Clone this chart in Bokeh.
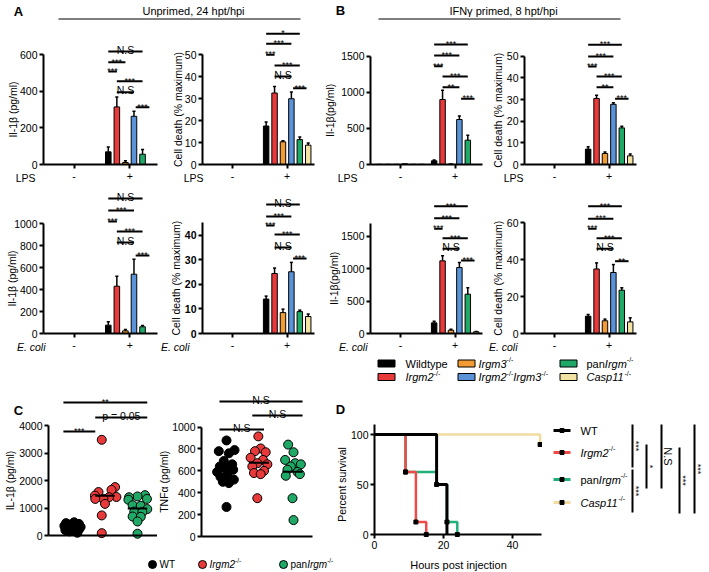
import math
from bokeh.plotting import figure
from bokeh.layouts import row, column
from bokeh.models import Range1d, FixedTicker, ColumnDataSource
from bokeh.core.properties import value
from bokeh.embed import file_html
from bokeh.resources import INLINE

FONT = "Liberation Sans"

# ---------------------------------------------------------------- data
GENOTYPES = ["Wildtype", "Irgm2-/-", "Irgm3-/-", "Irgm2-/-Irgm3-/-", "panIrgm-/-", "Casp11-/-"]
BAR_COLORS = ["#000000", "#e8393b", "#f39c33", "#5b93d9", "#20a866", "#f2e2a4"]
STIM_TICKS = ["-", "+"]

ZERO6 = [0, 0, 0, 0, 0, 0]
# Panel A: unprimed, 24 hpt/hpi
A_LPS_IL1B_NEG = ZERO6
A_LPS_IL1B_POS = [69, 314, 11, 263, 56, 0]
A_LPS_IL1B_ERR = [27, 54, 9, 27, 26, 0]
A_LPS_DEATH_NEG = ZERO6
A_LPS_DEATH_POS = [17.5, 32.5, 10.3, 29.9, 11.3, 8.8]
A_LPS_DEATH_ERR = [1.8, 3.0, 0.5, 3.0, 1.2, 1.0]
A_ECOLI_IL1B_NEG = ZERO6
A_ECOLI_IL1B_POS = [76, 430, 24, 539, 61, 0]
A_ECOLI_IL1B_ERR = [30, 91, 12, 137, 12, 0]
A_ECOLI_DEATH_NEG = ZERO6
A_ECOLI_DEATH_POS = [14, 24.4, 8.5, 25.1, 8.9, 6.9]
A_ECOLI_DEATH_ERR = [1.2, 2.2, 1.4, 3.8, 0.6, 1.0]
# Panel B: IFNg primed, 8 hpt/hpi
B_LPS_IL1B_NEG = [3, 3, 3, 10, 3, 3]
B_LPS_IL1B_POS = [51, 900, 5, 623, 337, 0]
B_LPS_IL1B_ERR = [12, 129, 3, 50, 69, 0]
B_LPS_DEATH_NEG = ZERO6
B_LPS_DEATH_POS = [7.1, 30.5, 5.1, 27.8, 16.9, 4.0]
B_LPS_DEATH_ERR = [1.1, 1.5, 0.7, 0.7, 0.8, 0.8]
B_ECOLI_IL1B_NEG = ZERO6
B_ECOLI_IL1B_POS = [164, 1120, 51, 1017, 606, 26]
B_ECOLI_IL1B_ERR = [26, 77, 16, 77, 98, 6]
B_ECOLI_DEATH_NEG = ZERO6
B_ECOLI_DEATH_POS = [9.4, 35.0, 6.9, 33.1, 23.5, 6.3]
B_ECOLI_DEATH_ERR = [0.9, 3.3, 0.9, 4.3, 1.3, 2.2]

SIG_PAIRS = [(0, 4), (0, 3), (0, 1), (1, 4), (1, 3), (3.2, 4.8)]
SIG_PAIRS_A_LPS_IL1B = [(0, 4), (0, 2), (0, 1), (1, 4), (1, 3), (3.2, 4.8)]
SIG_A_LPS_IL1B = ["N.S", "***", "***", "***", "N.S", "***"]
SIG_A_LPS_DEATH = ["*", "***", "***", "***", "N.S", "***"]
SIG_A_ECOLI_IL1B = ["N.S", "***", "***", "***", "N.S", "***"]
SIG_A_ECOLI_DEATH = ["N.S", "***", "***", "***", "N.S", "***"]
SIG_B_LPS_IL1B = ["***", "***", "***", "***", "**", "***"]
SIG_B_LPS_DEATH = ["***", "***", "***", "***", "**", "***"]
SIG_B_ECOLI_IL1B = ["***", "***", "***", "***", "N.S", "***"]
SIG_B_ECOLI_DEATH = ["***", "***", "***", "***", "N.S", "**"]

# Panel C: in vivo cytokines
C_GROUPS = ["WT", "Irgm2-/-", "panIrgm-/-"]
C_COLORS = ["#000000", "#e8393b", "#20a866"]
C_IL1B_WT = [480, 450, 420, 400, 380, 350, 330, 310, 300, 280, 250, 220, 200, 180, 150, 100]
C_IL1B_WT_JIT = [0.05, -0.2, 0.2, -0.1, 0.12, -0.25, 0.0, 0.25, -0.15, 0.1, -0.05, 0.2, -0.22, 0.05, -0.1, 0.15]
C_IL1B_IRGM2 = [3480, 1760, 1660, 1580, 1450, 1400, 1390, 1330, 1330, 1150, 730, 85]
C_IL1B_IRGM2_JIT = [-0.1, 0.31, 0.2, -0.2, -0.31, 0.35, 0.12, -0.05, -0.3, 0.0, -0.1, -0.1]
C_IL1B_PAN = [1467, 1420, 1390, 1330, 1300, 1100, 1080, 960, 870, 850, 690, 680, 510, 65]
C_IL1B_PAN_JIT = [0.23, 0.0, -0.26, 0.29, -0.28, -0.15, 0.1, 0.3, -0.1, 0.15, -0.15, 0.1, 0.0, 0.0]
C_TNF_WT = [878, 790, 780, 760, 690, 660, 640, 620, 610, 590, 560, 545, 520, 500, 488, 270]
C_TNF_WT_JIT = [0.03, 0.27, -0.2, 0.1, -0.05, 0.2, -0.17, 0.0, 0.23, -0.25, 0.05, -0.15, 0.25, -0.08, 0.1, 0.03]
C_TNF_IRGM2 = [915, 805, 780, 770, 720, 700, 670, 660, 640, 600, 580, 570, 350]
C_TNF_IRGM2_JIT = [-0.02, 0.05, -0.12, 0.2, -0.25, 0.12, -0.05, 0.25, -0.2, 0.15, -0.15, 0.05, -0.05]
C_TNF_PAN = [840, 770, 700, 670, 660, 640, 610, 590, 570, 555, 350, 150]
C_TNF_PAN_JIT = [-0.13, 0.03, -0.22, 0.08, 0.25, -0.05, -0.15, 0.15, 0.22, -0.2, 0.0, 0.03]
C_IL1B_SIG = [((-0.28, 2.3), "**"), ((0.7, 2.3), "p = 0.05"), ((-0.28, 0.7), "***")]
C_TNF_SIG = [((-0.18, 2.3), "N.S"), ((0.8, 2.3), "N.S"), ((-0.18, 1.15), "N.S")]

# Panel D: survival
D_NAMES = ["WT", "Irgm2-/-", "panIrgm-/-", "Casp11-/-"]
D_COLORS = ["#000000", "#ee4a4a", "#22b07a", "#f0dca0"]
D_TIMES = [[0, 18, 21], [0, 9, 12, 15], [0, 9, 18, 21, 24], [0, 48]]
D_SURV = [[100, 50, 0], [100, 62.5, 12.5, 0], [100, 62.5, 50, 12.5, 0], [100, 90]]
D_SIG = [("***", 632, 424, 467), ("***", 632, 469, 512), ("*", 646, 444, 488),
         ("N.S", 661, 424, 488), ("***", 679, 447, 513), ("***", 694, 424, 513)]

# ---------------------------------------------------------------- helpers
W = {' ': 278, '-': 333, '/': 278, '.': 278, ',': 278, '=': 584, '*': 389, '(': 333, ')': 333,
     '%': 889, 'A': 667, 'B': 667, 'C': 722, 'D': 722, 'E': 667, 'F': 611, 'I': 278, 'L': 556,
     'N': 722, 'P': 667, 'S': 667, 'T': 611, 'W': 944, 'a': 556, 'b': 556, 'c': 500, 'd': 556,
     'e': 556, 'f': 278, 'g': 556, 'h': 556, 'i': 222, 'j': 222, 'k': 500, 'l': 222, 'm': 833,
     'n': 556, 'o': 556, 'p': 556, 'r': 333, 's': 500, 't': 278, 'u': 556, 'v': 500, 'w': 722,
     'x': 500, 'y': 500}


def tw(s, size):
    return sum(W.get(c, 556) for c in s) * size / 1000.0


def segments(name):
    out = []
    parts = name.split("-/-")
    for k, part in enumerate(parts):
        if part:
            if part.startswith("pan"):
                out.append(("pan", "normal", False))
                out.append((part[3:], "italic", False))
            elif part in ("WT", "Wildtype"):
                out.append((part, "normal", False))
            else:
                out.append((part, "italic", False))
        if k < len(parts) - 1:
            out.append(("-/-", "normal", True))
    return out


def make_fig(width, height, xr, yr, axes=True):
    kw = dict(width=width, height=height, x_range=xr, y_range=yr, output_backend="svg",
              toolbar_location=None, tools="", min_border_left=0, min_border_right=0,
              min_border_top=0, min_border_bottom=0, outline_line_color=None,
              background_fill_color="white", border_fill_color="white")
    if not axes:
        kw.update(x_axis_type=None, y_axis_type=None)
    p = figure(**kw)
    if axes:
        p.xgrid.visible = False
        p.ygrid.visible = False
    return p


def style_axis(ax, size="10.5px", bold=False, standoff=2):
    ax.axis_line_width = 2
    ax.axis_line_color = "black"
    ax.major_tick_line_width = 2
    ax.major_tick_line_color = "black"
    ax.major_tick_out = 4
    ax.major_tick_in = 0
    ax.minor_tick_line_color = None
    ax.major_label_text_font = FONT
    ax.major_label_text_font_size = size
    ax.major_label_text_color = "black"
    ax.major_label_standoff = standoff
    ax.major_label_text_font_style = "bold" if bold else "normal"


class Panel:
    """A figure whose frame fills the whole box (L,T)-(R,B) of the page; axes sit at fixed data
    locations inside it, so labels around the axes are ordinary glyphs."""

    def __init__(self, L, T, R, B, ax_px, ax_data, xs, ay_px, ys, axes=True):
        self.ax_px, self.ax_data, self.xs = ax_px, ax_data, xs
        self.ay_px, self.ys = ay_px, ys
        self.p = make_fig(R - L, B - T, Range1d(self.dx(L), self.dx(R)),
                          Range1d(self.dy(B), self.dy(T)), axes)

    def dx(self, px):
        return self.ax_data + (px - self.ax_px) / self.xs

    def dy(self, py):
        return (self.ay_px - py) / self.ys

    def text(self, px, py, s, size="10.5px", align="center", baseline="middle", angle=0.0,
             style="normal"):
        self.p.text(x=[self.dx(px)], y=[self.dy(py)], text=[s], text_font=value(FONT),
                    text_font_size=size, text_align=align, text_baseline=baseline, angle=angle,
                    text_font_style=style, text_color="black")

    def hline(self, x0, x1, py, width=2):
        self.p.segment(x0=[x0], y0=[self.dy(py)], x1=[x1], y1=[self.dy(py)], line_color="black",
                       line_width=width)


def canvas(x0, x1, y0, y1):
    # page-pixel coordinates: data x == page x, data y == page y (downwards)
    return Panel(x0, y0, x1, y1, 0, 0, 1.0, 0, -1.0, axes=False)


def rich(P, x, yc, name, size=11.0):
    """Mixed italic/normal text with superscript '-/-', vertically centred on yc."""
    for text, style, sup in segments(name):
        fs = size * 0.64 if sup else size
        yy = yc - size * 0.36 if sup else yc
        P.text(x, yy, text, size=f"{fs:.1f}px", align="left", baseline="middle", style=style)
        x += tw(text, fs)


def sig_text(P, xc, py, lab):
    if lab.startswith("*"):
        P.text(xc, py - 0.5, lab, size="9px", baseline="alphabetic")
    else:
        P.text(xc, py - 2.0, lab, size="10.5px", baseline="alphabetic")


SPACING = 0.154
BW = 0.1
X0, X1 = -0.55, 1.5


def bar_panel(L, R, T, B, axl, axr, axy, ys, ybound, neg, pos, err, yticks, ylabel, ylabel_px,
              stim, stim_right, pairs, labels, levels, bold=False):
    xs = (axr - axl) / (X1 - X0)
    P = Panel(L, T, R, B, axl, X0, xs, axy, ys)
    p = P.p
    x, top, col = [], [], []
    ex, ebar, etop = [], [], []
    for g, vals, es in ((0, neg, ZERO6), (1, pos, err)):
        for i in range(6):
            xi = g + (i - 2.5) * SPACING
            x.append(xi)
            top.append(vals[i])
            col.append(BAR_COLORS[i])
            if es[i] > 0:
                ex.append(xi)
                ebar.append(vals[i])
                etop.append(vals[i] + es[i])
    p.vbar(x="x", top="top", width=BW, fill_color="color", line_color="black", line_width=1,
           source=ColumnDataSource(dict(x=x, top=top, color=col)))
    esrc = ColumnDataSource(dict(x=ex, bar=ebar, etop=etop, xl=[v - 0.028 for v in ex],
                                 xr=[v + 0.028 for v in ex]))
    p.segment(x0="x", y0="bar", x1="x", y1="etop", source=esrc, line_color="black", line_width=1.5)
    p.segment(x0="xl", y0="etop", x1="xr", y1="etop", source=esrc, line_color="black",
              line_width=1.5)

    for (a, b), lab, lev in zip(pairs, labels, levels):
        xa = 1 + (a - 2.5) * SPACING
        xb = 1 + (b - 2.5) * SPACING
        P.hline(xa, xb, lev)
        xc_px = axl + (0.5 * (xa + xb) - X0) * xs
        sig_text(P, xc_px, lev, lab)

    xa_, ya_ = p.xaxis[0], p.yaxis[0]
    style_axis(xa_, standoff=3)
    style_axis(ya_, bold=bold)
    xa_.fixed_location = 0
    xa_.bounds = (X0, X1)
    xa_.ticker = FixedTicker(ticks=[0, 1])
    xa_.major_label_overrides = {0: STIM_TICKS[0], 1: STIM_TICKS[1]}
    ya_.fixed_location = X0
    ya_.bounds = (0, ybound)
    ya_.ticker = FixedTicker(ticks=yticks)

    P.text(ylabel_px, axy - ybound * ys / 2, ylabel, angle=math.pi / 2)
    P.text(stim_right, axy + 13.5, stim, align="right",
           style="italic" if stim.startswith("E.") else "normal")
    return p


# ---------------------------------------------------------------- header
H = canvas(0, 708, 0, 22)
H.text(18, 11, "A", size="13px", style="bold")
H.text(340, 10, "B", size="13px", style="bold")
H.text(193, 10, "Unprimed, 24 hpt/hpi", size="11px")
H.text(503, 10, "IFNγ primed, 8 hpt/hpi", size="11px")
H.hline(58, 300, 18.5, width=1.2)
H.hline(378, 620, 18.5, width=1.2)

# ---------------------------------------------------------------- rows A/B
a1t = bar_panel(0, 160, 22, 186, 43, 157, 164, 110 / 600, 600, A_LPS_IL1B_NEG, A_LPS_IL1B_POS,
                A_LPS_IL1B_ERR, [0, 200, 400, 600], "Il-1β (pg/ml)", 12, "LPS", 35,
                SIG_PAIRS_A_LPS_IL1B, SIG_A_LPS_IL1B, [51, 61.7, 71, 80.7, 91.7, 106.7])
a2t = bar_panel(160, 323, 22, 186, 202, 314, 164, 110 / 50, 50, A_LPS_DEATH_NEG, A_LPS_DEATH_POS,
                A_LPS_DEATH_ERR, [0, 10, 20, 30, 40, 50], "Cell death (% maximum)", 177, "LPS", 203,
                SIG_PAIRS, SIG_A_LPS_DEATH, [33.3, 43.3, 54.3, 65, 76, 87.7])
b1t = bar_panel(323, 488, 22, 186, 370, 482, 164, 108.3 / 1500, 1500, B_LPS_IL1B_NEG,
                B_LPS_IL1B_POS, B_LPS_IL1B_ERR, [0, 500, 1000, 1500], "Il-1β(pg/ml)", 329, "LPS",
                357, SIG_PAIRS, SIG_B_LPS_IL1B, [44, 55, 65.7, 76, 86.7, 98.3])
b2t = bar_panel(488, 708, 22, 186, 524, 636, 164, 108.3 / 50, 50, B_LPS_DEATH_NEG, B_LPS_DEATH_POS,
                B_LPS_DEATH_ERR, [0, 10, 20, 30, 40, 50], "Cell death (% maximum)", 497, "LPS", 523,
                SIG_PAIRS, SIG_B_LPS_DEATH, [44.3, 56, 66, 76, 86.7, 98.3])

a1b = bar_panel(0, 160, 186, 352, 43, 157, 333, 110 / 1000, 1000, A_ECOLI_IL1B_NEG,
                A_ECOLI_IL1B_POS, A_ECOLI_IL1B_ERR, [0, 200, 400, 600, 800, 1000], "Il-1β (pg/ml)",
                11, "E. coli", 45, SIG_PAIRS, SIG_A_ECOLI_IL1B, [198, 210, 221, 231, 242, 255])
a2b = bar_panel(160, 323, 186, 352, 202, 314, 333, 98.4 / 40, 45, A_ECOLI_DEATH_NEG,
                A_ECOLI_DEATH_POS, A_ECOLI_DEATH_ERR, [0, 10, 20, 30, 40], "Cell death (% maximum)",
                175, "E. coli", 189, SIG_PAIRS, SIG_A_ECOLI_DEATH, [204, 216, 225, 234, 247, 258],
                bold=True)
b1b = bar_panel(323, 488, 186, 352, 370, 482, 333, 97.3 / 1500, 1700, B_ECOLI_IL1B_NEG,
                B_ECOLI_IL1B_POS, B_ECOLI_IL1B_ERR, [0, 500, 1000, 1500], "Il-1β(pg/ml)", 333,
                "E. coli", 367, SIG_PAIRS, SIG_B_ECOLI_IL1B,
                [205.7, 217.7, 228.3, 237.7, 248.3, 260])
b2b = bar_panel(488, 708, 186, 352, 524, 636, 333, 110.6 / 60, 60, B_ECOLI_DEATH_NEG,
                B_ECOLI_DEATH_POS, B_ECOLI_DEATH_ERR, [0, 20, 40, 60], "Cell death (% maximum)", 497,
                "E. coli", 517, SIG_PAIRS, SIG_B_ECOLI_DEATH,
                [205.7, 218.3, 228.3, 237.7, 248.3, 260.7])

# ---------------------------------------------------------------- bar legend
LG = canvas(0, 708, 352, 384)
LEG_COLS = [(386, 405), (466, 478), (568, 586)]
LEG_ROWS = [363, 376.5]
for k, name in enumerate(GENOTYPES):
    sx, tx = LEG_COLS[k // 2]
    yy = LEG_ROWS[k % 2]
    LG.p.rect(x=[sx], y=[yy], width=17, height=7, fill_color=BAR_COLORS[k], line_color="black",
              line_width=1)
    rich(LG, tx, yy, name, 11)

# ---------------------------------------------------------------- panel C


def dot_panel(L, R, T, B, axl, axr, g0_px, xs, axy, ys, ybound, groups, yticks, ylabel, ylabel_px,
              sig, levels, letter=None):
    P = Panel(L, T, R, B, g0_px, 0, xs, axy, ys)
    p = P.p
    for g, (vals, jit, colr) in enumerate(groups):
        p.scatter(x=[g + j for j in jit], y=vals, size=9, marker="circle", fill_color=colr,
                  line_color="black", line_width=1)
    for g, (vals, jit, colr) in enumerate(groups):
        m = sum(vals) / len(vals)
        p.segment(x0=[g - 0.3], y0=[m], x1=[g + 0.3], y1=[m], line_color="black", line_width=2)
    for ((a, b), lab), lev in zip(sig, levels):
        P.hline(a, b, lev)
        sig_text(P, g0_px + 0.5 * (a + b) * xs, lev, lab)
    xa_, ya_ = p.xaxis[0], p.yaxis[0]
    style_axis(xa_)
    style_axis(ya_)
    xa_.fixed_location = 0
    xa_.bounds = (P.dx(axl), P.dx(axr))
    xa_.ticker = FixedTicker(ticks=[])
    ya_.fixed_location = P.dx(axl)
    ya_.bounds = (0, ybound)
    ya_.ticker = FixedTicker(ticks=yticks)
    P.text(ylabel_px, axy - ybound * ys / 2, ylabel, angle=math.pi / 2)
    if letter:
        P.text(18, 410, letter, size="13px", style="bold")
    return P


C1 = dot_panel(0, 157, 384, 555, 48, 157, 72, 32.5, 535, 110 / 4000, 4000,
               [(C_IL1B_WT, C_IL1B_WT_JIT, C_COLORS[0]), (C_IL1B_IRGM2, C_IL1B_IRGM2_JIT, C_COLORS[1]),
                (C_IL1B_PAN, C_IL1B_PAN_JIT, C_COLORS[2])],
               [0, 1000, 2000, 3000, 4000], "IL-1β (pg/ml)", 9, C_IL1B_SIG, [402, 417, 431],
               letter="C")
C2 = dot_panel(157, 334, 384, 555, 201, 312, 225, 33.5, 536, 109.4 / 1000, 1000,
               [(C_TNF_WT, C_TNF_WT_JIT, C_COLORS[0]), (C_TNF_IRGM2, C_TNF_IRGM2_JIT, C_COLORS[1]),
                (C_TNF_PAN, C_TNF_PAN_JIT, C_COLORS[2])],
               [0, 200, 400, 600, 800, 1000], "TNFα (pg/ml)", 163, C_TNF_SIG, [401, 415, 429])

CL = canvas(0, 334, 555, 571)
for name, colr, cx in zip(C_GROUPS, C_COLORS, [152, 202, 283]):
    CL.p.scatter(x=[cx], y=[564], size=8, marker="circle", fill_color=colr, line_color="black",
                 line_width=1)
    rich(CL, cx + 7, 564, name, 10)

# ---------------------------------------------------------------- panel D
D = Panel(334, 384, 542, 571, 374, 0, 3.45, 534, 1.0)
d = D.p
for t, s, colr, lw in zip(D_TIMES[::-1], D_SURV[::-1], D_COLORS[::-1], [2.5, 2.5, 2.5, 3]):
    d.step(x=t, y=s, mode="after", line_color=colr, line_width=lw)
for t, s in zip(D_TIMES[1:], D_SURV[1:]):
    d.scatter(x=t[1:], y=s[1:], marker="square", size=4, fill_color="black", line_color="black")
style_axis(d.xaxis[0])
style_axis(d.yaxis[0])
d.xaxis[0].fixed_location = 0
d.xaxis[0].bounds = (0, 48.3)
d.xaxis[0].ticker = FixedTicker(ticks=[0, 20, 40])
d.yaxis[0].fixed_location = 0
d.yaxis[0].bounds = (0, 110)
d.yaxis[0].ticker = FixedTicker(ticks=[0, 50, 100])
D.text(341, 484, "Percent survival", angle=math.pi / 2)
D.text(458, 564, "Hours post injection", size="11px")
D.text(340, 409, "D", size="13px", style="bold")

DL = canvas(542, 708, 384, 571)
D_ROWS = [430, 452, 479, 502]
for name, colr, yy in zip(D_NAMES, D_COLORS, D_ROWS):
    DL.p.segment(x0=[553], y0=[yy], x1=[570], y1=[yy], line_color=colr, line_width=3)
    DL.p.scatter(x=[561.5], y=[yy], marker="square", size=4, fill_color="black",
                 line_color="black")
    rich(DL, 580, yy, name, 11)
for lab, lx, y0, y1 in D_SIG:
    DL.p.segment(x0=[lx], y0=[y0], x1=[lx], y1=[y1], line_color="black", line_width=2)
    if lab.startswith("*"):
        DL.text(min(lx + 3, 704), (y0 + y1) / 2, lab, size="9px", angle=-math.pi / 2)
    else:
        DL.text(lx + 6, (y0 + y1) / 2, lab, size="11px", angle=-math.pi / 2)

# ---------------------------------------------------------------- layout
layout = column(
    H.p,
    row(a1t, a2t, b1t, b2t),
    row(a1b, a2b, b1b, b2b),
    LG.p,
    row(column(row(C1.p, C2.p), CL.p), d, DL.p),
)

open("out.html", "w").write(file_html(layout, INLINE))
